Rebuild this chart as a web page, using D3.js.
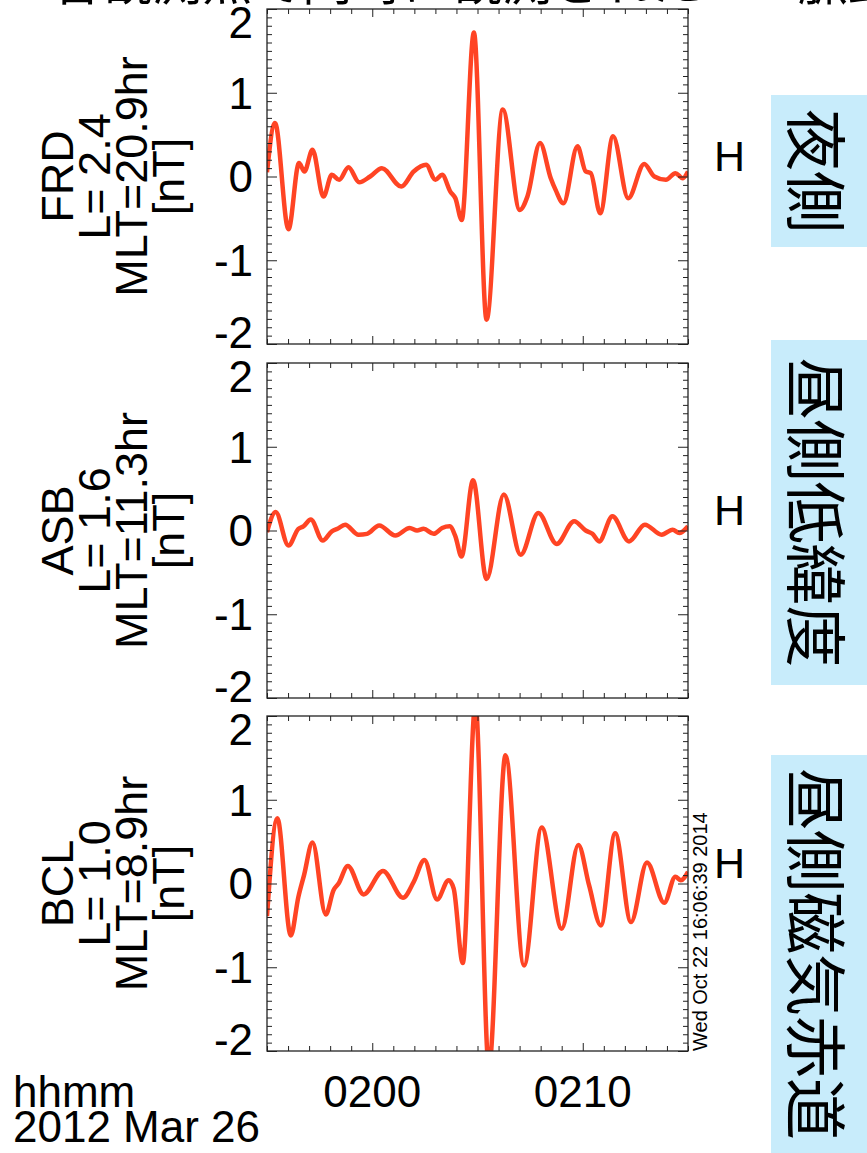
<!DOCTYPE html>
<html lang="ja">
<head>
  <meta charset="UTF-8">
  <title>Pi2 H component</title>
  <script src="https://cdn.jsdelivr.net/npm/d3@7"></script>
  <style type="text/css">
    body {
      margin: 0;
      background: white;
    }
    svg text {
      font-family: "Liberation Sans", Arial, Helvetica, sans-serif;
      fill: black;
    }
    .jp {
      font-family: "Noto Sans CJK JP", "Noto Sans CJK SC", sans-serif !important;
    }
    .tick line {
      stroke: #222;
    }
  </style>
</head>
<body>
<script>
  // time axis: minutes after 01:55 UT
  var xTickVals = [5, 15];
  var xTickLabels = ["0200", "0210"];
  var yTickVals = [2, 1, 0, -1, -2];

  var stationNames = ["FRD", "ASB", "BCL"];
  var stationL = ["L= 2.4", "L= 1.6", "L= 1.0"];
  var stationMLT = ["MLT=20.9hr", "MLT=11.3hr", "MLT=8.9hr"];
  var sideLabels = ["夜側", "昼側低緯度", "昼側磁気赤道"];

  // FRD H [nT]
  var frdT = [0,0.38,1.02,1.52,1.78,2.16,2.68,3.08,3.43,3.87,4.38,4.9,5.46,6.38,6.97,7.56,8.0,8.32,8.71,8.95,9.25,9.83,10.43,11.2,12.01,12.37,12.97,13.48,13.71,14.08,14.75,15.14,15.38,15.83,16.44,17.16,17.92,18.4,18.95,19.4,19.75,20.0];
  var frdH = [0.05,0.64,-0.63,0.16,0.06,0.32,-0.24,0.02,-0.04,0.11,-0.07,0.0,0.1,-0.12,0.06,0.14,-0.04,0.02,-0.18,-0.26,-0.52,1.72,-1.71,0.80,-0.40,-0.24,0.40,-0.02,-0.16,-0.32,0.36,0.06,0.04,-0.44,0.48,-0.26,0.15,0.0,-0.04,0.04,-0.02,0.06];

  // ASB H [nT]
  var asbT = [0,0.41,1.02,1.49,1.73,2.08,2.65,3.08,3.35,3.71,4.35,4.75,5.33,6.1,6.78,7.13,7.44,7.92,8.32,8.68,8.95,9.24,9.79,10.43,11.25,12.05,12.89,13.76,14.59,15.14,15.46,15.78,16.41,17.2,17.95,18.75,19.27,19.59,20.0];
  var asbH = [-0.02,0.22,-0.18,0.02,0.05,0.13,-0.12,-0.01,0.02,0.07,-0.05,-0.04,0.06,-0.06,0.03,0.0,0.02,-0.04,0.03,0.05,-0.07,-0.31,0.60,-0.58,0.43,-0.29,0.21,-0.16,0.11,0.0,-0.04,-0.13,0.17,-0.13,0.07,-0.05,0.01,-0.03,0.05];

  // BCL H [nT]
  var bclT = [0,0.49,1.13,1.49,1.76,2.16,2.79,3.16,3.4,3.84,4.59,5.51,6.46,6.97,7.48,8.08,8.63,8.87,9.3,9.9,10.54,11.33,12.21,13.05,14.0,14.79,15.3,15.86,16.54,17.29,18.05,18.87,19.4,19.66,20.0];
  var bclH = [-0.39,0.78,-0.62,-0.16,0.1,0.49,-0.37,-0.08,0.0,0.21,-0.13,0.15,-0.17,0.02,0.28,-0.19,0.04,-0.06,-0.95,2.15,-2.2,1.53,-0.98,0.67,-0.54,0.46,-0.02,-0.5,0.6,-0.46,0.25,-0.23,0.08,0.04,0.14];

  var seriesT = [frdT, asbT, bclT];
  var seriesH = [frdH, asbH, bclH];

  // layout
  var W = 867, H = 1153;
  var x0 = 267, x1 = 688;
  var panelTop = [9, 363, 716];
  var panelH = 335;
  var sideBoxes = [[95, 247], [340, 685], [755, 1160]];

  var svg = d3.select("body").append("svg")
      .attr("width", W)
      .attr("height", H);

  var x = d3.scaleLinear().domain([0, 20]).range([x0, x1]);

  var xMinor = d3.range(0, 21).filter(function(d) { return xTickVals.indexOf(d) < 0; });
  var yMinor = d3.range(-20, 21).map(function(i) { return i / 10; })
      .filter(function(d) { return Math.round(d) !== d; });

  // title, mostly cut off by the top edge
  svg.append("text")
      .attr("class", "jp")
      .attr("x", 475)
      .attr("y", 0)
      .attr("text-anchor", "middle")
      .style("font-size", "50px")
      .text("各観測点で同時に観測された Pi2 脈動");

  function addAxis(g, axis, tx, ty) {
    var a = g.append("g")
        .attr("transform", "translate(" + tx + "," + ty + ")")
        .call(axis);
    a.select(".domain").remove();
    a.selectAll(".tick line").attr("stroke-width", 1);
    return a;
  }

  stationNames.forEach(function(name, i) {
    var top = panelTop[i], bottom = top + panelH;
    var y = d3.scaleLinear().domain([-2, 2]).range([bottom, top]);
    var mid = y(0);
    var g = svg.append("g");

    // clip the trace to the plot box
    svg.append("clipPath")
        .attr("id", "clip" + i)
      .append("rect")
        .attr("x", x0).attr("y", top)
        .attr("width", x1 - x0).attr("height", panelH);

    var pts = seriesT[i].map(function(t, k) { return [t, seriesH[i][k]]; });
    var line = d3.line()
        .x(function(d) { return x(d[0]); })
        .y(function(d) { return y(d[1]); })
        .curve(d3.curveMonotoneX);

    g.append("path")
        .datum(pts)
        .attr("clip-path", "url(#clip" + i + ")")
        .attr("fill", "none")
        .attr("stroke", "#ff4424")
        .attr("stroke-width", 4.5)
        .attr("stroke-linejoin", "round")
        .attr("d", line);

    // inward ticks on all four sides
    var fmt = function() { return ""; };
    addAxis(g, d3.axisLeft(y).tickValues(yMinor).tickSize(-5).tickFormat(fmt), x0, 0);
    addAxis(g, d3.axisLeft(y).tickValues(yTickVals).tickSize(-10).tickFormat(fmt), x0, 0);
    addAxis(g, d3.axisRight(y).tickValues(yMinor).tickSize(-5).tickFormat(fmt), x1, 0);
    addAxis(g, d3.axisRight(y).tickValues(yTickVals).tickSize(-10).tickFormat(fmt), x1, 0);
    addAxis(g, d3.axisTop(x).tickValues(xMinor).tickSize(-5).tickFormat(fmt), 0, top);
    addAxis(g, d3.axisTop(x).tickValues(xTickVals).tickSize(-8).tickFormat(fmt), 0, top);
    addAxis(g, d3.axisBottom(x).tickValues(xMinor).tickSize(-5).tickFormat(fmt), 0, bottom);
    addAxis(g, d3.axisBottom(x).tickValues(xTickVals).tickSize(-8).tickFormat(fmt), 0, bottom);

    g.append("rect")
        .attr("x", x0).attr("y", top)
        .attr("width", x1 - x0).attr("height", panelH)
        .attr("fill", "none")
        .attr("stroke", "#222")
        .attr("stroke-width", 1.3);

    // y tick labels, the end ones pulled inside the box
    g.selectAll(".ylab")
        .data(yTickVals)
      .enter().append("text")
        .attr("x", x0 - 14)
        .attr("y", function(d) { return y(d) + (d === 2 ? 13 : d === -2 ? -12 : 0); })
        .attr("dy", "0.36em")
        .attr("text-anchor", "end")
        .style("font-size", "44px")
        .text(function(d) { return d < 0 ? "-" + Math.abs(d) : d; });

    // station label (rotated)
    var lab = g.append("text")
        .attr("transform", "translate(73," + mid + ") rotate(-90)")
        .attr("text-anchor", "middle")
        .style("font-size", "45px");
    var lines = [name, stationL[i], stationMLT[i], "[nT]"];
    lines.forEach(function(s, k) {
      lab.append("tspan")
          .attr("x", 0)
          .attr("y", k * 37)
          .text(s);
    });

    // component label
    g.append("text")
        .attr("x", 714)
        .attr("y", mid - 6)
        .style("font-size", "43px")
        .text("H");

    // side box
    var b = sideBoxes[i];
    g.append("rect")
        .attr("x", 771).attr("y", b[0])
        .attr("width", W - 771).attr("height", b[1] - b[0])
        .attr("fill", "#c8ecfb");
    g.append("text")
        .attr("class", "jp")
        .attr("transform", "translate(819," + ((b[0] + Math.min(b[1], H)) / 2) + ") rotate(90)")
        .attr("text-anchor", "middle")
        .attr("dominant-baseline", "central")
        .style("font-size", "62px")
        .text(sideLabels[i]);
  });

  // time labels under the bottom panel
  svg.selectAll(".xlab")
      .data(xTickVals)
    .enter().append("text")
      .attr("x", function(d) { return x(d); })
      .attr("y", 1107)
      .attr("text-anchor", "middle")
      .style("font-size", "44px")
      .text(function(d, k) { return xTickLabels[k]; });

  svg.append("text")
      .attr("x", 13).attr("y", 1107)
      .style("font-size", "44px")
      .text("hhmm");
  svg.append("text")
      .attr("x", 13).attr("y", 1142)
      .style("font-size", "44px")
      .text("2012 Mar 26");

  // plot timestamp
  svg.append("text")
      .attr("transform", "translate(707,1051) rotate(-90)")
      .style("font-size", "20px")
      .text("Wed Oct 22 16:06:39 2014");
</script>
</body>
</html>
